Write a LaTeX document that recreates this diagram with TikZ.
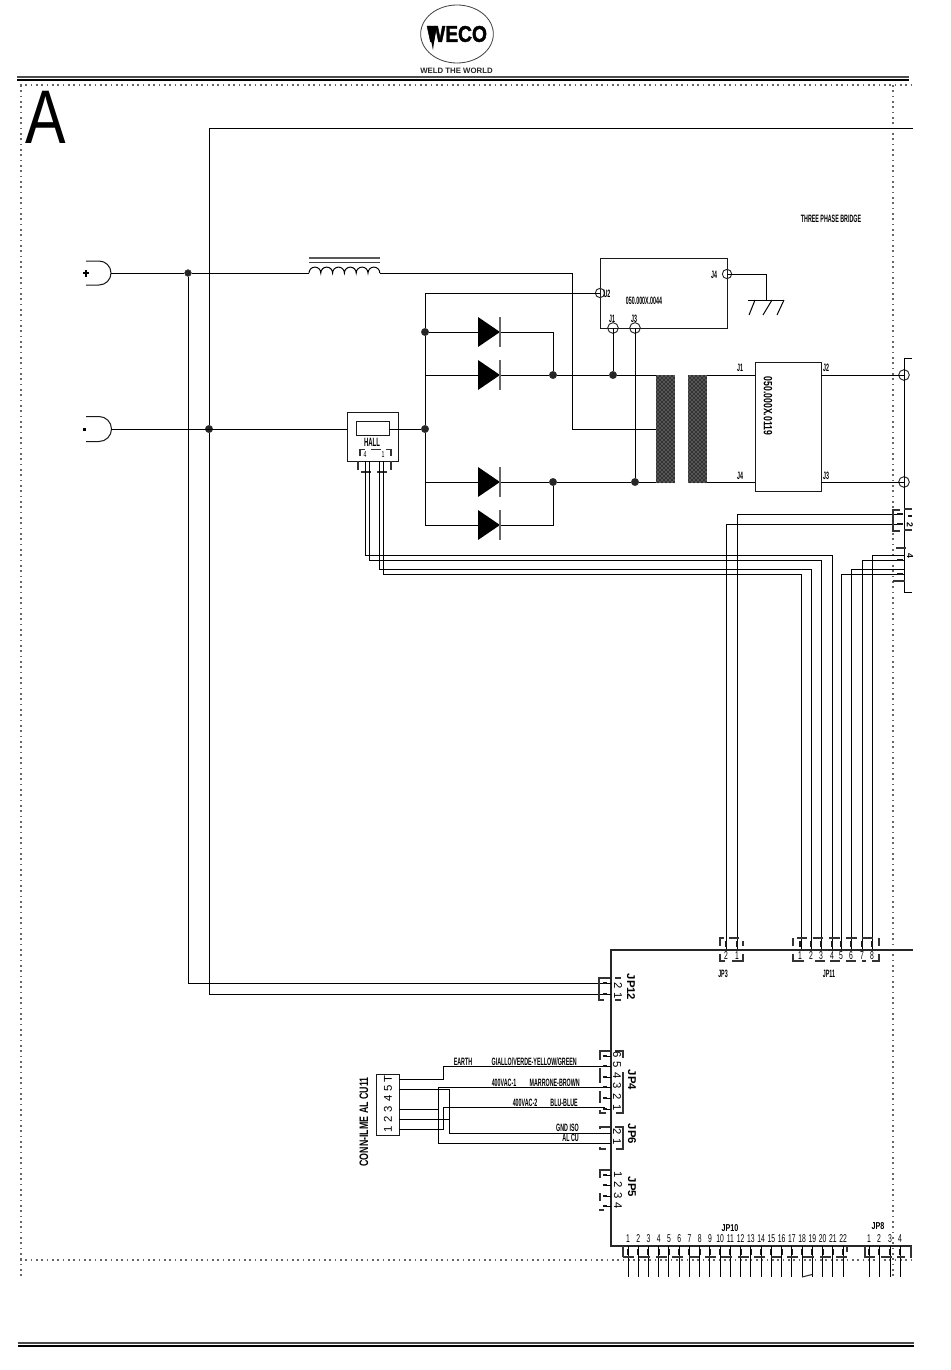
\documentclass[tikz,border=0pt]{standalone}
\usepackage{fontspec}
\setmainfont{Liberation Sans}
\newfontfamily\condf[FakeStretch=0.5]{Liberation Sans Bold}
\newfontfamily\condb[FakeStretch=0.72]{Liberation Sans Bold}
\newfontfamily\condd[FakeStretch=0.6]{Liberation Sans}
\newfontfamily\wecof[FakeStretch=0.85,FakeBold=2]{Liberation Sans Bold}
\newfontfamily\boldf{Liberation Sans Bold}
\usetikzlibrary{patterns,shapes.geometric}
\tikzset{
  wire/.style={draw=black,line width=.75pt},
  thinw/.style={draw=black,line width=.75pt},
  boxs/.style={draw=black!90,line width=.75pt},
  dotline/.style={draw=black!60,line width=1.2pt,dash pattern=on 1.3pt off 2.7pt},
  junc/.style={circle,fill=black!85,draw=black!80,inner sep=0pt,minimum size=5.5pt},
  ring/.style={circle,draw=black!85,line width=.7pt,inner sep=0pt,minimum size=8pt},
  lab/.style={inner sep=0pt,font=\condf\fontsize{8}{9}\selectfont},
  labb/.style={inner sep=0pt,font=\condb\fontsize{7.5}{8}\selectfont},
  digit/.style={inner sep=0pt,font=\fontsize{8.5}{9}\selectfont,rotate=-90},
  jplab/.style={inner sep=0pt,font=\boldf\fontsize{8.5}{9}\selectfont,rotate=-90},
  digitv/.style={inner sep=0pt,font=\condd\fontsize{8.5}{9}\selectfont},
  pinm/.style={draw=black!90,line width=1.5pt},
  brk/.style={draw=black!80,line width=.8pt},
  core/.style={draw=none,fill=black!80,postaction={pattern=crosshatch dots,pattern color=white!80!black}}
}
\newcommand{\diodeat}[1]{%
  \fill[black] (478,#1-15) -- (500,#1) -- (478,#1+15) -- cycle;
  \draw[draw=black!60,line width=.8pt] (500,#1-15) -- (500,#1+15);
}
\begin{document}
\begin{tikzpicture}[x=0.75pt,y=-0.75pt,line cap=butt]
\useasboundingbox (0,0) rectangle (950,1370);
\fill[white] (0,0) rectangle (950,1370);
% header
\node[draw=black!75,line width=.6pt,ellipse,minimum width=54.5pt,minimum height=43.5pt,inner sep=0pt] (logo) at (457,34) {};
\node[inner sep=0pt,font=\wecof\fontsize{17}{17}\selectfont] (weco) at (457,34) {WECO};
\fill[black] (428,26) -- (436,26) -- (433,50) -- cycle;
\node[inner sep=0pt,font=\boldf\fontsize{5.85}{7}\selectfont,text=black!85] (wtw) at (456.5,71) {WELD THE WORLD};
\draw[draw=black!70,line width=.9pt] (17,77) -- (909,77);
\draw[black,line width=1.9pt] (17,80) -- (909,80);
\draw[dotline] (20,85) -- (913,85);
\draw[dotline] (21,85) -- (21,1276);
\draw[dotline] (893,85) -- (893,1278);
\draw[dotline] (20,1260) -- (913,1260);
\draw[draw=black!70,line width=.9pt] (18,1343) -- (914,1343);
\draw[black,line width=1.9pt] (18,1346) -- (914,1346);
\node[inner sep=0pt,anchor=base,xscale=.8,font=\fontsize{57}{57}\selectfont] (bigA) at (45.5,143.5) {A};
% plugs
\coordinate (plugp) at (111,273);
\coordinate (plugn) at (111,429);
\draw[boxs] (86,261) -- (99,261) arc[start angle=-90,end angle=90,radius=12] -- (86,285);
\draw[boxs] (86,416.5) -- (99,416.5) arc[start angle=-90,end angle=90,radius=12.5] -- (86,441.5);
\draw[black,line width=1.2pt] (83,273) -- (89,273) (86,270) -- (86,276.5);
\fill[black] (83,427.5) rectangle (86,430.5);
% junctions
\node[junc,minimum size=5pt] (j1) at (188,273) {};
\node[junc] (j2) at (209,429) {};
\node[junc] (j3) at (425,429) {};
\node[junc] (j4) at (425,332) {};
\node[junc] (j5) at (553,375) {};
\node[junc] (j6) at (613,375) {};
\node[junc] (j7) at (553,482) {};
\node[junc] (j8) at (635,482) {};
% rails
\coordinate (top) at (913,128);
\draw[wire] (top) -- (209,128) -- (j2);
\draw[wire] (j2) -- (209,994) -- (606,994);
\draw[wire] (j1) -- (188,983) -- (606,983);
\draw[wire] (plugp) -- (j1) -- (309,273);
\draw[wire] (plugn) -- (347,429);
% inductor
\draw[wire] (309,273) arc[start angle=180,end angle=360,radius=5.9]
  arc[start angle=180,end angle=360,radius=5.9] arc[start angle=180,end angle=360,radius=5.9]
  arc[start angle=180,end angle=360,radius=5.9] arc[start angle=180,end angle=360,radius=5.9]
  arc[start angle=180,end angle=360,radius=5.9];
\draw[draw=black!65,line width=1.1pt] (309,258) -- (380,258);
\draw[draw=black!75,line width=.7pt] (309,262) -- (380,262);
\draw[wire] (380,273) -- (572,273) -- (572,429) -- (656,429);
% hall
\draw[boxs] (347,412) rectangle (398,461);
\draw[boxs] (356,421) rectangle (389,435);
\node[lab,font=\condf\fontsize{9}{9}\selectfont] (hall) at (372,442) {HALL};
\node[lab,font=\condd\fontsize{6.5}{7}\selectfont] (h4) at (365,455) {4};
\node[lab,font=\condd\fontsize{6.5}{7}\selectfont] (h1) at (383,455) {1};
\draw[brk] (360,456) -- (360,449.5) -- (365,449.5) (371,449.5) -- (381,449.5) (386,449.5) -- (391,449.5) -- (391,456);
\draw[brk] (358,461) -- (358,470) (391,461) -- (391,470);
\draw[brk] (361,472) -- (371,472) (377,472) -- (387,472);
\draw[wire] (389,429) -- (j3);
\draw[thinw] (365,461) -- (365,555) -- (832,555) -- (832,950);
\draw[thinw] (369,461) -- (369,560) -- (821,560) -- (821,950);
\draw[thinw] (379,461) -- (379,569) -- (811,569) -- (811,950);
\draw[thinw] (383,461) -- (383,574) -- (801,574) -- (801,950);
% bridge
\draw[wire] (425,293) -- (j4) -- (j3) -- (425,525);
\draw[wire] (j4) -- (478,332) (500,332) -- (553,332) -- (j5);
\draw[wire] (425,375) -- (478,375) (500,375) -- (j5);
\draw[wire] (j5) -- (j6) -- (656,375);
\draw[wire] (425,482) -- (478,482) (500,482) -- (j7) -- (j8) -- (656,482);
\draw[wire] (425,525) -- (478,525) (500,525) -- (553,525) -- (j7);
\diodeat{332}\diodeat{375}\diodeat{482}\diodeat{525}
% module 0044
\node[boxs,draw,minimum width=95.25pt,minimum height=52.5pt,inner sep=0pt] (m44) at (663.5,293) {};
\node[ring,minimum size=7pt] (u2) at (600,293) {};
\node[ring] (mj1) at (613,328) {};
\node[ring] (mj3) at (635,328) {};
\node[ring,minimum size=7pt] (mj4) at (727,274) {};
\node[lab] (tu2) at (607,294) {U2};
\node[lab] (tj1) at (612,319) {J1};
\node[lab] (tj3) at (634,319) {J3};
\node[lab] (tj4) at (714,275) {J4};
\node[lab] (t44) at (644,301) {050.000X.0044};
\draw[wire] (425,293) -- (u2.center);
\draw[wire] (mj1.center) -- (j6);
\draw[wire] (mj3.center) -- (j8);
\coordinate (gnd) at (766,300);
\draw[wire] (mj4.center) -- (766,274) -- (gnd);
\draw[wire] (748,300) -- (784,300);
\draw[wire] (755,300) -- (749,315) (772,300) -- (763,315) (784,300) -- (777,315);
\node[lab] (tpb) at (831,219) {THREE PHASE BRIDGE};
% transformer
\path[core] (656,375) rectangle (675,483);
\path[core] (688,375) rectangle (707,483);
% module 0119
\node[boxs,draw,minimum width=49.5pt,minimum height=96.75pt,inner sep=0pt] (m19) at (788,426.5) {};
\node[inner sep=0pt,rotate=-90,font=\condb\fontsize{9}{9}\selectfont] (t19) at (768,406) {050.000X.0119};
\node[lab] (l1) at (740,368) {J1};
\node[lab] (l4) at (740,476) {J4};
\node[lab] (l2) at (826,368) {J2};
\node[lab] (l3) at (826,476) {J3};
\node[ring] (r1) at (904,375) {};
\node[ring] (r2) at (904,482) {};
\draw[wire] (707,375) -- (755,375);
\draw[wire] (707,482) -- (755,482);
\draw[wire] (821,375) -- (r1.center);
\draw[wire] (821,482) -- (r2.center);
\draw[wire] (912,358) -- (904,358) -- (r1.center) -- (r2.center) -- (904,592) -- (912,592);
% right connectors
\draw[thinw] (903,514) -- (737,514) -- (737,950);
\draw[thinw] (903,524) -- (726,524) -- (726,950);
\draw[thinw] (905,555) -- (872,555) -- (872,950);
\draw[thinw] (905,560) -- (862,560) -- (862,950);
\draw[thinw] (905,569) -- (851,569) -- (851,950);
\draw[thinw] (905,574) -- (841,574) -- (841,950);
\draw[brk] (900,510) -- (893,510) -- (893,531) -- (900,531);
\draw[brk] (904,509) -- (912,509) (904,530) -- (912,530);
\draw[brk] (896,548) -- (906,548) (893,581) -- (905,581);
\draw[pinm] (908,516) -- (912,516);
\foreach \yy in {514,524,560,574}{\draw[pinm] (897,\yy) -- (903,\yy);}
\node[jplab,font=\boldf\fontsize{6.5}{7}\selectfont] (d2) at (910,525) {2};
\node[jplab,font=\boldf\fontsize{6.5}{7}\selectfont] (d4) at (910,556) {4};
% main board
\draw[draw=black!85,line width=1pt] (913,950) -- (611,950) -- (611,1246) -- (912,1246);
% JP3
\draw[brk] (724,938) -- (720,938) -- (720,946) (720,954) -- (720,961) -- (725,961) (729,938) -- (739,938) (732,961) -- (743,961) -- (743,954) (743,946) -- (743,941);
\foreach \xx in {726,737}{\draw[pinm] (\xx,941) -- (\xx,947);}
\node[digitv] (jp3a) at (726,956) {2};
\node[digitv] (jp3b) at (737,956) {1};
\node[lab] (jp3) at (723,974) {JP3};
% JP11
\draw[brk] (793,946) -- (793,938) (793,954) -- (793,961) -- (804,961) (879,938) -- (879,946) (879,954) -- (879,961) -- (872,961);
\foreach \aa/\bb in {797/807,813/823,829/840,846/857,862/873}{\draw[brk] (\aa,938) -- (\bb,938);}
\foreach \aa/\bb in {815/825,830/840,846/856,862/866}{\draw[brk] (\aa,961) -- (\bb,961);}
\foreach \xx [count=\i] in {800,811,821,832,841,851,862,872}{
  \draw[pinm] (\xx,941) -- (\xx,947);
  \node[digitv,name=jpe\i] at (\xx,956) {\i};
}
\node[lab] (jp11) at (829,974) {JP11};
% JP12
\draw[brk] (610,978) -- (599,978) -- (599,1000) -- (604,1000) (615,978) -- (621,978) (615,1000) -- (621,1000);
\foreach \yy in {983,994}{\draw[pinm] (603,\yy) -- (607,\yy); \draw[thinw] (606,\yy) -- (611,\yy);}
\node[digit] (jp12a) at (618,986) {2};
\node[digit] (jp12b) at (618,996) {1};
\node[jplab] (jp12) at (631,987) {JP12};
% CONN
\node[boxs,draw,minimum width=17.25pt,minimum height=45.75pt,inner sep=0pt] (conn) at (387.5,1104.5) {};
\foreach \yy/\tt in {1079/T,1088.5/5,1098/4,1109/3,1119/2,1129/1}{
  \node[inner sep=0pt,rotate=90,font=\fontsize{8.5}{9}\selectfont] at (388,\yy) {\tt};
}
\node[inner sep=0pt,rotate=90,font=\condb\fontsize{9.2}{9}\selectfont] (tconn) at (364,1122) {CONN-ILME AL CU11};
\draw[wire] (399,1079) -- (443,1079) -- (443,1066) -- (605,1066);
\draw[wire] (399,1089) -- (449,1089) -- (449,1133) -- (605,1133);
\draw[wire] (399,1109) -- (438,1109) (438,1087) -- (605,1087) (438,1087) -- (438,1143) -- (605,1143);
\draw[wire] (399,1119) -- (449,1119);
\draw[wire] (399,1129) -- (443,1129) -- (443,1107) -- (605,1107);
\node[lab] (tearth) at (463,1062) {EARTH};
\node[lab,anchor=east] (tg) at (577,1062) {GIALLO/VERDE-YELLOW/GREEN};
\node[lab] (t4a) at (504,1083) {400VAC-1};
\node[lab,anchor=east] (tm) at (580,1083) {MARRONE-BROWN};
\node[lab] (t4b) at (525,1103) {400VAC-2};
\node[lab,anchor=east] (tb) at (578,1103) {BLU-BLUE};
\node[lab,anchor=east] (tgi) at (579,1128) {GND ISO};
\node[lab,anchor=east] (tac) at (579,1138) {AL CU};
% JP4
\draw[brk] (610,1051) -- (600,1051) -- (600,1060) (600,1068) -- (600,1083) (600,1091) -- (600,1103) (600,1110) -- (600,1113) -- (606,1113);
\draw[brk] (615,1051) -- (623,1051) -- (623,1058) (623,1072) -- (623,1113) -- (616,1113);
\foreach \yy/\tt in {1055/6,1065/5,1076/4,1086/3,1097/2,1108/1}{
  \draw[pinm] (603,\yy+1) -- (607,\yy+1);
  \draw[thinw] (606,\yy+1) -- (611,\yy+1);
  \node[digit] at (617,\yy) {\tt};
}
\node[jplab] (jp4) at (632,1080) {JP4};
% JP6
\draw[brk] (610,1127) -- (600,1127) -- (600,1129) (600,1147) -- (600,1149) -- (606,1149) (615,1127) -- (623,1127) -- (623,1149) -- (616,1149);
\foreach \yy/\tt in {1133/2,1143/1}{
  \draw[thinw] (605,\yy) -- (611,\yy);
  \node[digit] at (617,\yy-1) {\tt};
}
\node[jplab] (jp6) at (632,1134) {JP6};
% JP5
\draw[brk] (610,1170) -- (600,1170) -- (600,1178) (600,1193) -- (600,1201) (600,1209) -- (600,1210) -- (604,1210);
\foreach \yy/\tt in {1175/1,1185/2,1196/3,1206/4}{
  \draw[pinm] (603,\yy) -- (607,\yy);
  \draw[thinw] (606,\yy) -- (611,\yy);
  \node[digit] at (618,\yy) {\tt};
}
\node[jplab] (jp5) at (632,1187) {JP5};
% JP10
\foreach \i in {1,...,22}{
  \pgfmathsetmacro{\xx}{628+(\i-1)*10.24}
  \draw[pinm] (\xx,1249) -- (\xx,1255);
  \draw[thinw] (\xx,1246) -- (\xx,1277);
  \node[digitv] at (\xx,1239) {\i};
}
\foreach \k in {0,...,13}{
  \pgfmathsetmacro{\xa}{623+16.4*\k}
  \draw[brk] (\xa,1257) -- (\xa+10.7,1257);
}
\draw[brk] (623,1246) -- (623,1257);
\draw[brk] (847,1246) -- (847,1252);
\draw[brk] (802,1277) -- (812,1274.5);
\node[labb] (jp10) at (730,1228) {JP10};
% JP8
\foreach \xx [count=\i] in {869,879,890,900}{
  \draw[pinm] (\xx,1249) -- (\xx,1255);
  \draw[thinw] (\xx,1246) -- (\xx,1277);
  \node[digitv] at (\xx,1239) {\i};
}
\draw[brk] (865,1246) -- (865,1257) -- (875,1257) (881,1257) -- (892,1257) (897,1257) -- (905,1257) (911,1246) -- (911,1258);
\node[labb] (jp8) at (878,1226) {JP8};
\end{tikzpicture}
\end{document}
